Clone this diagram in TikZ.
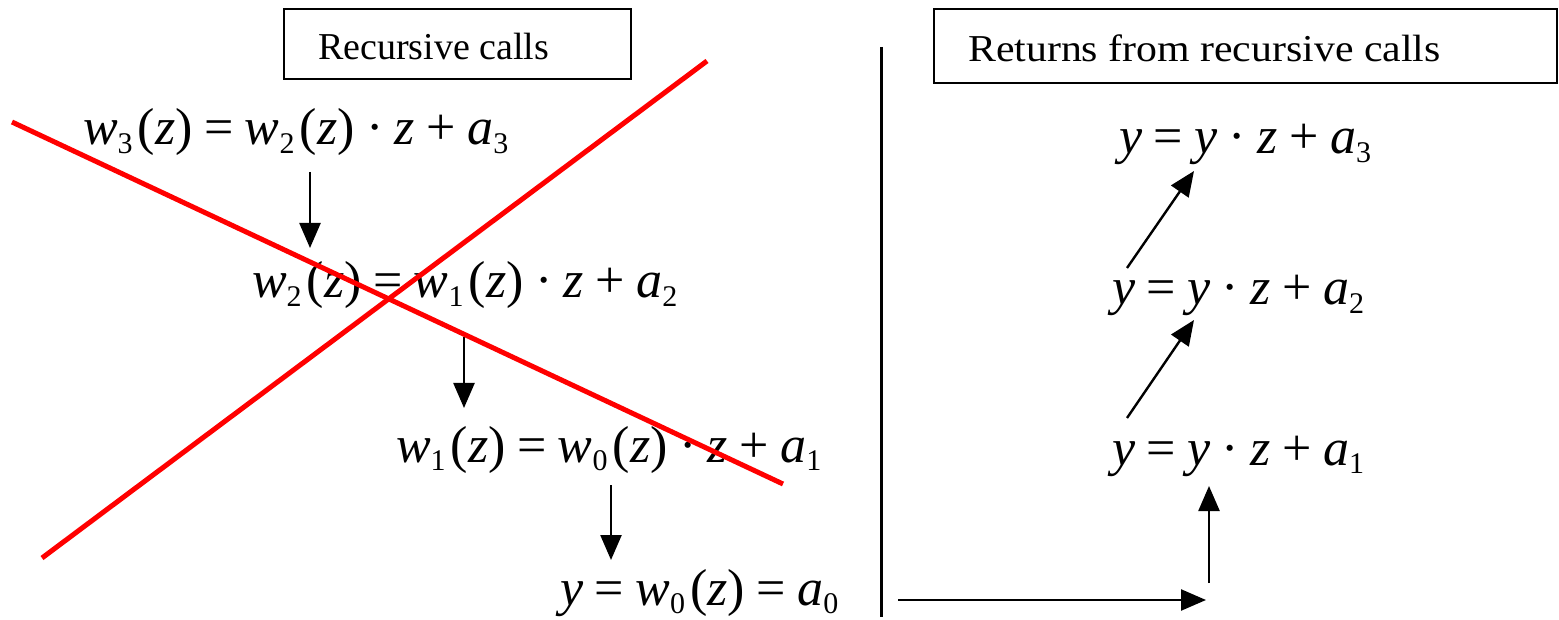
\documentclass[tikz,border=0pt]{standalone}
\usepackage{fontspec}
\setmainfont{Liberation Serif}[ItalicFont={Liberation Serif Italic},BoldFont={Liberation Serif Bold}]
\usetikzlibrary{arrows.meta}
\newcommand\fm{\fontsize{52}{58}\selectfont}
\newcommand\sbx[1]{\raisebox{-0.16em}{\fontsize{30}{30}\selectfont #1}}
\newcommand\opx[1]{\hspace{0.22em}#1\hspace{0.22em}}
\newcommand\iv[1]{\textit{#1}}
\begin{document}
\begin{tikzpicture}[x=1pt,y=-1pt,
  eq/.style={anchor=base west,inner sep=0pt,outer sep=0pt,font=\fm},
  title/.style={anchor=base west,inner sep=0pt,font=\fontsize{38}{42}\selectfont},
  frame/.style={draw,line width=2pt},
  arr/.style={line width=2.4pt,-{Triangle[length=25pt,width=21pt]}},
  cross/.style={red,line width=5pt}]
\useasboundingbox (0,0) rectangle (1559,620);
% title boxes
\draw[frame] (284,9) rectangle (631,79);
\node[title] (t1) at (318,60) {Recursive calls};
\draw[frame] (934,9) rectangle (1557,83);
\node[title] (t2) at (968,62) {\scalebox{1.1}[1]{Returns from recursive calls}};
% divider
\coordinate (vt) at (881,47);
\coordinate (vb) at (881,617);
\draw[line width=3pt] (vt) -- (vb);
% left formulas
\node[eq] (w3) at (83,145) {\iv{w}\sbx{3}\hspace{.1em}(\iv{z})\opx{=}\iv{w}\sbx{2}\hspace{.1em}(\iv{z})\opx{·}\iv{z}\opx{+}\iv{a}\sbx{3}};
\node[eq] (w2) at (252,298) {\iv{w}\sbx{2}\hspace{.1em}(\iv{z})\opx{=}\iv{w}\sbx{1}\hspace{.1em}(\iv{z})\opx{·}\iv{z}\opx{+}\iv{a}\sbx{2}};
\node[eq] (w1) at (396,462) {\iv{w}\sbx{1}\hspace{.1em}(\iv{z})\opx{=}\iv{w}\sbx{0}\hspace{.1em}(\iv{z})\opx{·}\iv{z}\opx{+}\iv{a}\sbx{1}};
\node[eq] (w0) at (560,605) {\iv{y}\opx{=}\iv{w}\sbx{0}\hspace{.1em}(\iv{z})\opx{=}\iv{a}\sbx{0}};
% right formulas
\node[eq] (r3) at (1119,154) {\iv{y}\opx{=}\iv{y}\opx{·}\iv{z}\opx{+}\iv{a}\sbx{3}};
\node[eq] (r2) at (1112,305) {\iv{y}\opx{=}\iv{y}\opx{·}\iv{z}\opx{+}\iv{a}\sbx{2}};
\node[eq] (r1) at (1112,465) {\iv{y}\opx{=}\iv{y}\opx{·}\iv{z}\opx{+}\iv{a}\sbx{1}};
% arrow end points
\coordinate (d1s) at (310,172); \coordinate (d1e) at (310,248);
\coordinate (d2s) at (464,337); \coordinate (d2e) at (464,408);
\coordinate (d3s) at (611,485); \coordinate (d3e) at (611,560);
\coordinate (hs) at (898,600); \coordinate (he) at (1206,600);
\coordinate (us) at (1209,583); \coordinate (ue) at (1209,486);
\coordinate (g1s) at (1127,418); \coordinate (g1e) at (1194,320);
\coordinate (g2s) at (1127,268); \coordinate (g2e) at (1194,171);
\draw[arr] (d1s) -- (d1e);
\draw[arr] (d2s) -- (d2e);
\draw[arr] (d3s) -- (d3e);
\draw[arr] (hs) -- (he);
\draw[arr] (us) -- (ue);
\draw[arr] (g1s) -- (g1e);
\draw[arr] (g2s) -- (g2e);
% red cross
\coordinate (ca1) at (12,122); \coordinate (ca2) at (783,484);
\coordinate (cb1) at (42,558); \coordinate (cb2) at (707,61);
\draw[cross] (ca1) -- (ca2);
\draw[cross] (cb1) -- (cb2);
\end{tikzpicture}
\end{document}
